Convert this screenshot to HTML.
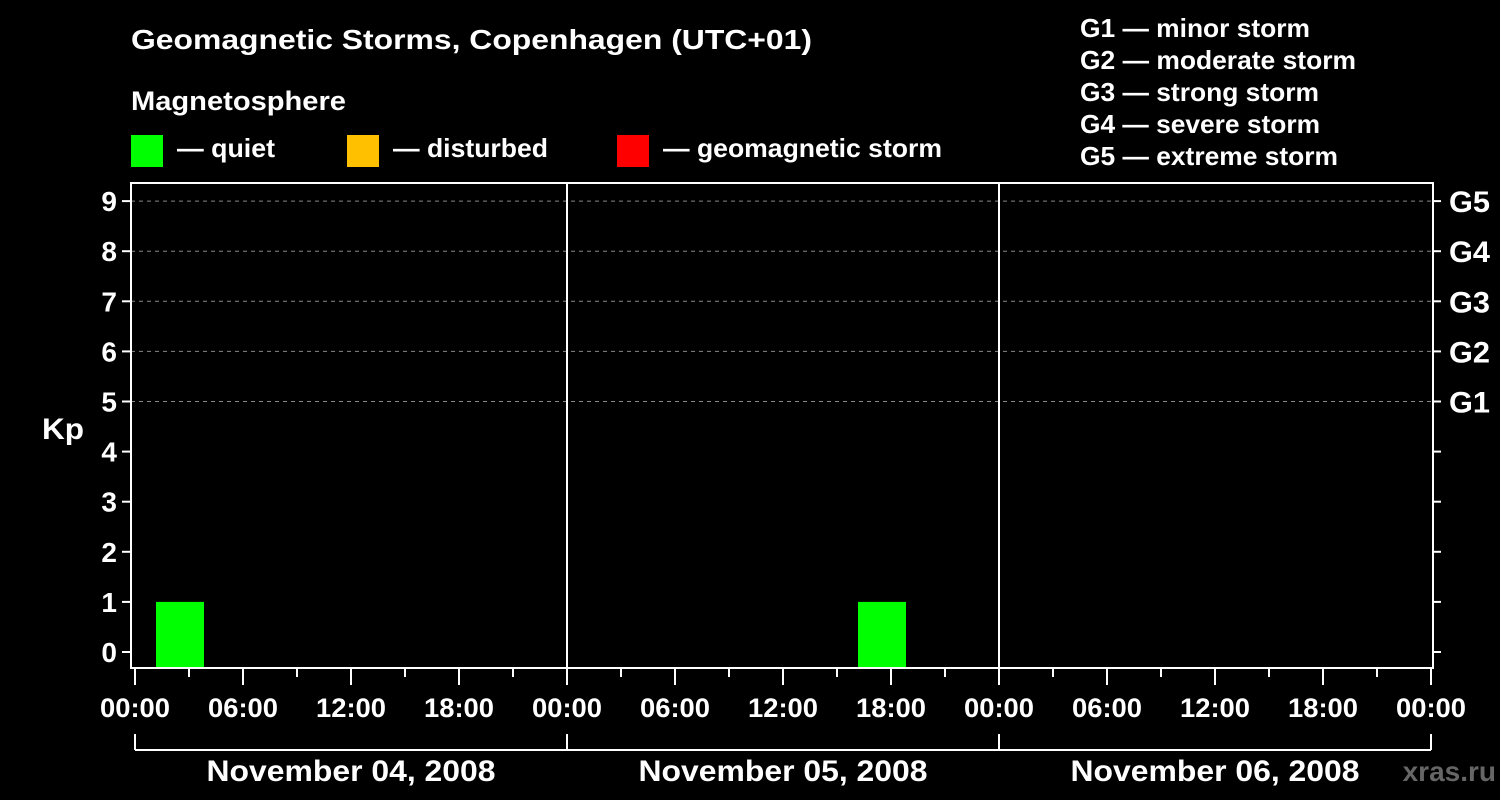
<!DOCTYPE html>
<html><head><meta charset="utf-8"><style>
html,body{margin:0;padding:0;background:#000;}
svg{display:block;font-family:"Liberation Sans",Arial,sans-serif;font-weight:bold;}
</style></head><body>
<svg id="chart" width="1500" height="800" viewBox="0 0 1500 800">
<rect x="0" y="0" width="1500" height="800" fill="#000"/>
<text x="131" y="49" fill="#fff" font-size="28" textLength="681" lengthAdjust="spacingAndGlyphs">Geomagnetic Storms, Copenhagen (UTC+01)</text>
<text x="131" y="110" fill="#fff" font-size="27" textLength="215" lengthAdjust="spacingAndGlyphs">Magnetosphere</text>
<g><rect x="131" y="135" width="32" height="32" fill="#00ff00"/><text x="177" y="157" fill="#fff" font-size="26" textLength="98" lengthAdjust="spacingAndGlyphs">— quiet</text></g>
<g><rect x="347" y="135" width="32" height="32" fill="#ffc000"/><text x="393" y="157" fill="#fff" font-size="26" textLength="155" lengthAdjust="spacingAndGlyphs">— disturbed</text></g>
<g><rect x="617" y="135" width="32" height="32" fill="#ff0000"/><text x="663" y="157" fill="#fff" font-size="26" textLength="279" lengthAdjust="spacingAndGlyphs">— geomagnetic storm</text></g>
<g fill="#fff" font-size="26">
<text x="1080" y="37" textLength="230" lengthAdjust="spacingAndGlyphs">G1 — minor storm</text>
<text x="1080" y="69" textLength="276" lengthAdjust="spacingAndGlyphs">G2 — moderate storm</text>
<text x="1080" y="101" textLength="239" lengthAdjust="spacingAndGlyphs">G3 — strong storm</text>
<text x="1080" y="133" textLength="240" lengthAdjust="spacingAndGlyphs">G4 — severe storm</text>
<text x="1080" y="165" textLength="258" lengthAdjust="spacingAndGlyphs">G5 — extreme storm</text>
</g>
<text x="42" y="439" fill="#fff" font-size="30" textLength="42" lengthAdjust="spacingAndGlyphs">Kp</text>
<text x="1496" y="781" fill="#666" font-size="28" text-anchor="end">xras.ru</text>
<g id="plot"></g>
</svg>
<script>
const kpValues = [1,0,0,0,0,0,0,0, 0,0,0,0,0,1,0,0, 0,0,0,0,0,0,0,0];
const dayLabels = ["November 04, 2008","November 05, 2008","November 06, 2008"];
const yTicks = [0,1,2,3,4,5,6,7,8,9];
const gLabels = ["G1","G2","G3","G4","G5"];
const gKp = [5,6,7,8,9];
const hourLabels = ["00:00","06:00","12:00","18:00"];
const utcOffset = 1;

const NS="http://www.w3.org/2000/svg";
const g=document.getElementById('plot');
const X0=135, PXH=18, Y0=652, PXK=50.1;
const FL=131, FR=1433, FT=183, FB=668;
const xs=h=>X0+h*PXH;
const ys=k=>Y0-k*PXK;
function el(t,a,txt){const e=document.createElementNS(NS,t);for(const k in a)e.setAttribute(k,a[k]);if(txt!==undefined)e.textContent=txt;g.appendChild(e);return e;}
function color(k){return k>=5?'#ff0000':(k>=4?'#ffc000':'#00ff00');}

gKp.forEach((k,i)=>{
  const l=el('line',{x1:FL,x2:FR,y1:ys(k),y2:ys(k),stroke:'#888','stroke-dasharray':'4,4','stroke-width':1});
  
  
});
kpValues.forEach((v,i)=>{
  if(v<=0)return;
  const x1=xs(i*3+utcOffset)+3, x2=xs(i*3+3+utcOffset)-3;
  const r=el('rect',{x:x1,y:ys(v),width:x2-x1,height:FB-ys(v),fill:color(v)});
  
  
});
const fr=el('rect',{x:FL,y:FT,width:FR-FL,height:FB-FT,fill:'none',stroke:'#fff','stroke-width':2});


for(let d=1;d<dayLabels.length;d++){
  const l=el('line',{x1:xs(d*24),x2:xs(d*24),y1:FT,y2:FB,stroke:'#fff','stroke-width':2});
  
  
}
yTicks.forEach(k=>{
  el('line',{x1:FL-9,x2:FL,y1:ys(k),y2:ys(k),stroke:'#fff','stroke-width':2});
  el('line',{x1:FR,x2:FR+8,y1:ys(k),y2:ys(k),stroke:'#fff','stroke-width':2});
  const t=el('text',{x:FL-14,y:ys(k)+10,fill:'#fff','font-size':28,'text-anchor':'end'},String(k));
  
  
});
gLabels.forEach((s,i)=>{
  const t=el('text',{x:1449,y:ys(gKp[i])+11,fill:'#fff','font-size':30,textLength:41,lengthAdjust:'spacingAndGlyphs'},s);
  
  
});
for(let h=0;h<=72;h+=3){
  const major=h%6===0;
  el('line',{x1:xs(h),x2:xs(h),y1:FB,y2:FB+(major?17:9),stroke:'#fff','stroke-width':2});
  if(major){
    const t=el('text',{x:xs(h),y:717,fill:'#fff','font-size':27,'text-anchor':'middle',textLength:70,lengthAdjust:'spacingAndGlyphs'},hourLabels[(h/6)%4]);
    
    
  }
}
el('line',{x1:xs(0),x2:xs(72),y1:750,y2:750,stroke:'#fff','stroke-width':2});
for(let d=0;d<=dayLabels.length;d++){
  el('line',{x1:xs(d*24),x2:xs(d*24),y1:734,y2:750,stroke:'#fff','stroke-width':2});
}
dayLabels.forEach((s,d)=>{
  const t=el('text',{x:xs(d*24+12),y:781,fill:'#fff','font-size':30,'text-anchor':'middle',textLength:289,lengthAdjust:'spacingAndGlyphs'},s);
  
  
});
</script>
</body></html>
